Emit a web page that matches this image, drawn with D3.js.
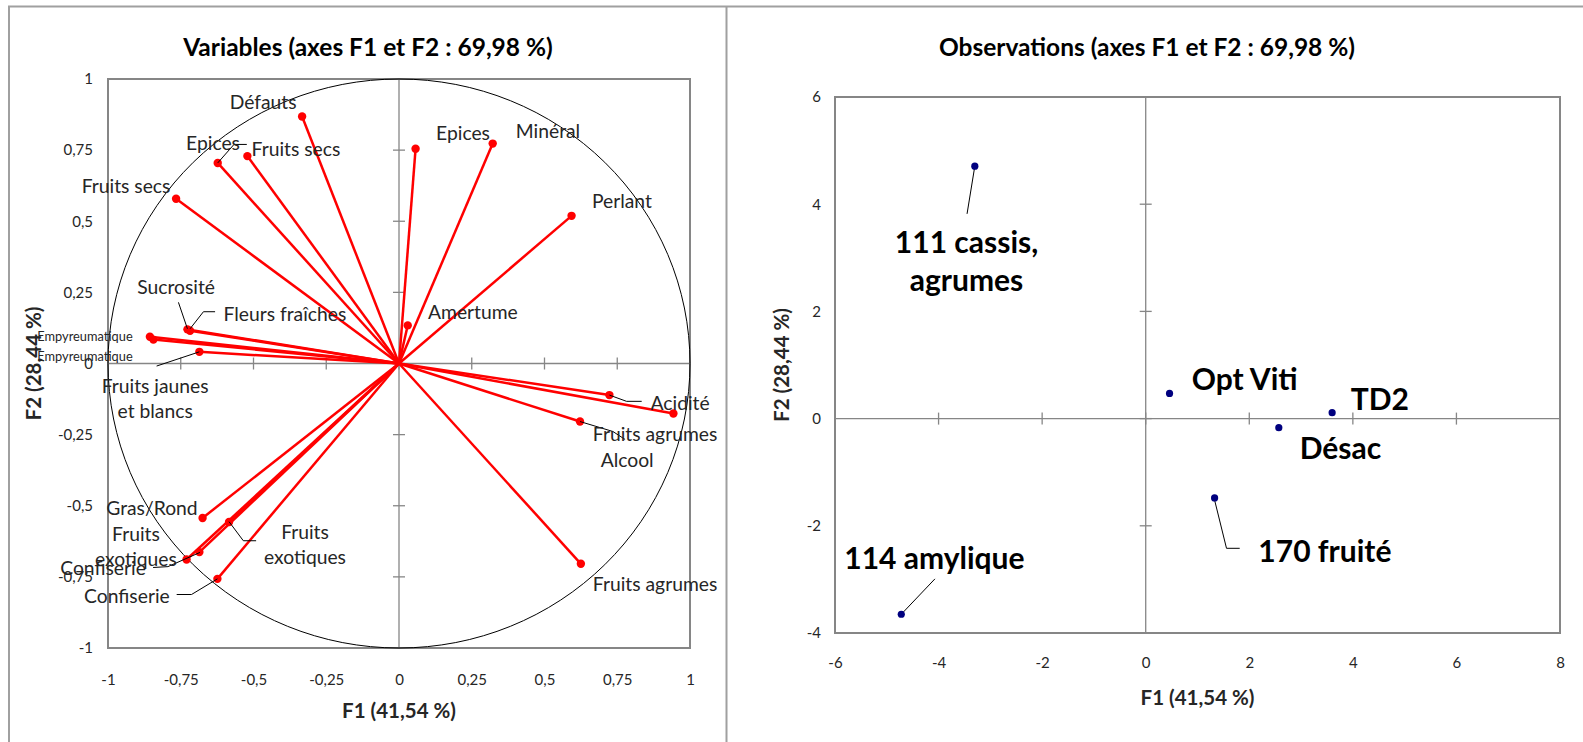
<!DOCTYPE html>
<html>
<head>
<meta charset="utf-8">
<script src="https://cdn.jsdelivr.net/npm/d3@7"></script>
<style>
  body { margin: 0; background: #fff; }
  text { font-family: Lato, "Open Sans", sans-serif; fill: #262626; }
</style>
</head>
<body>
<svg id="chart" width="1583" height="742"></svg>
<script>
// ---- Variables (correlation circle) ----
const varNames = ["Défauts", "Epices", "Fruits secs", "Fruits secs", "Epices", "Minéral", "Perlant",
  "Sucrosité", "Fleurs fraîches", "Empyreumatique", "Empyreumatique", "Fruits jaunes\net blancs",
  "Amertume", "Acidité", "Fruits agrumes", "Alcool", "Fruits agrumes", "Gras/Rond",
  "Fruits\nexotiques", "Fruits\nexotiques", "Confiserie", "Confiserie"];
const varF1 = [-0.333, -0.623, -0.521, -0.766, 0.057, 0.322, 0.593,
  -0.727, -0.718, -0.856, -0.844, -0.686,
  0.030, 0.723, 0.943, 0.622, 0.625, -0.675,
  -0.584, -0.686, -0.730, -0.624];
const varF2 = [0.868, 0.705, 0.729, 0.579, 0.755, 0.773, 0.519,
  0.120, 0.115, 0.094, 0.084, 0.041,
  0.134, -0.111, -0.176, -0.204, -0.704, -0.543,
  -0.557, -0.663, -0.689, -0.757];
// label anchors (data units)
const varLabF1 = [-0.467, -0.639, -0.354, -0.938, 0.220, 0.512, 0.766,
  -0.766, -0.392, -1.079, -1.079, -0.838,
  0.254, 0.966, 0.880, 0.784, 0.880, -0.849,
  -0.323, -0.904, -1.017, -0.935];
const varLabF2 = [0.924, 0.780, 0.759, 0.629, 0.812, 0.822, 0.576,
  0.271, 0.176, 0.095, 0.025, -0.121,
  0.186, -0.137, -0.243, -0.334, -0.770, -0.503,
  -0.631, -0.638, -0.717, -0.815];
// leader lines (data units)
const varLeaders = [
  [[-0.623, 0.705], [-0.567, 0.770], [-0.523, 0.770]],
  [[-0.758, 0.215], [-0.727, 0.122]],
  [[-0.718, 0.122], [-0.672, 0.182], [-0.632, 0.182]],
  [[-0.686, 0.041], [-0.833, -0.009]],
  [[0.723, -0.111], [0.782, -0.133], [0.834, -0.133]],
  [[0.622, -0.204], [0.735, -0.239], [0.777, -0.267]],
  [[-0.584, -0.556], [-0.535, -0.623], [-0.491, -0.623]],
  [[-0.845, -0.717], [-0.794, -0.714], [-0.684, -0.664]],
  [[-0.764, -0.812], [-0.713, -0.812], [-0.624, -0.757]]
];
const varTicks = [-1, -0.75, -0.5, -0.25, 0, 0.25, 0.5, 0.75, 1];

// ---- Observations ----
const obsNames = ["111 cassis,\nagrumes", "114 amylique", "Opt Viti", "TD2", "Désac", "170 fruité"];
const obsF1 = [-3.30, -4.72, 0.46, 3.60, 2.57, 1.33];
const obsF2 = [4.71, -3.65, 0.47, 0.11, -0.17, -1.48];
const obsLabF1 = [-3.46, -4.08, 1.91, 4.52, 3.76, 3.46];
const obsLabF2 = [2.96, -2.58, 0.76, 0.38, -0.53, -2.45];
const obsLeaders = [
  [[-3.30, 4.71], [-3.45, 3.82]],
  [[-4.69, -3.62], [-4.07, -2.99]],
  [[1.33, -1.52], [1.56, -2.42], [1.815, -2.42]]
];
const obsTicksX = [-6, -4, -2, 0, 2, 4, 6, 8];
const obsTicksY = [-4, -2, 0, 2, 4, 6];

const svg = d3.select('#chart');
const fmt = d => String(d).replace('.', ',');
const gray = '#868686';

// outer chart frames
svg.append('path')
  .attr('d', 'M9,742V6.5H1583M726.5,6.5V742')
  .attr('fill', 'none').attr('stroke', '#a0a0a0').attr('stroke-width', 2);

function drawPanel(cfg) {
  const { x, y, ticksX, ticksY } = cfg;
  const g = svg.append('g');
  const [x0, x1] = x.range(), [y0, y1] = y.range();

  // title + axis titles
  g.append('text').attr('x', cfg.titleX).attr('y', 46)
    .attr('text-anchor', 'middle').attr('dominant-baseline', 'central')
    .style('font-weight', 700).style('font-size', '24.5px').style('fill', '#000')
    .text(cfg.title);
  g.append('text').attr('x', (x0 + x1) / 2).attr('y', cfg.xTitleY)
    .attr('text-anchor', 'middle').attr('dominant-baseline', 'central')
    .style('font-weight', 700).style('font-size', '20.5px').style('fill', '#262626')
    .text('F1 (41,54 %)');
  g.append('text')
    .attr('transform', `translate(${cfg.yTitleX},${(y0 + y1) / 2}) rotate(-90)`)
    .attr('text-anchor', 'middle').attr('dominant-baseline', 'central')
    .style('font-weight', 700).style('font-size', '20.5px').style('fill', '#262626')
    .text('F2 (28,44 %)');

  // tick labels outside the plot area
  const ax = g.append('g').attr('transform', `translate(0,${y0})`)
    .call(d3.axisBottom(x).tickValues(ticksX).tickSize(0).tickPadding(cfg.padX).tickFormat(fmt));
  const ay = g.append('g').attr('transform', `translate(${x0},0)`)
    .call(d3.axisLeft(y).tickValues(ticksY).tickSize(0).tickPadding(cfg.padY).tickFormat(fmt));
  [ax, ay].forEach(a => {
    a.select('.domain').remove();
    a.selectAll('text').attr('font-family', null).attr('font-size', null)
      .style('font-size', '15px').style('fill', '#262626');
  });

  // zero lines with cross ticks
  g.append('line').attr('x1', x0).attr('x2', x1).attr('y1', y(0)).attr('y2', y(0))
    .attr('stroke', gray).attr('stroke-width', 1.3);
  g.append('line').attr('x1', x(0)).attr('x2', x(0)).attr('y1', y0).attr('y2', y1)
    .attr('stroke', gray).attr('stroke-width', 1.3);
  g.selectAll('.tx').data(ticksX).join('line')
    .attr('x1', d => x(d)).attr('x2', d => x(d))
    .attr('y1', y(0) - 6).attr('y2', y(0) + 6)
    .attr('stroke', gray).attr('stroke-width', 1.3);
  g.selectAll('.ty').data(ticksY).join('line')
    .attr('y1', d => y(d)).attr('y2', d => y(d))
    .attr('x1', x(0) - 6).attr('x2', x(0) + 6)
    .attr('stroke', gray).attr('stroke-width', 1.3);

  // plot area border
  g.append('rect').attr('x', x0).attr('y', y1)
    .attr('width', x1 - x0).attr('height', y0 - y1)
    .attr('fill', 'none').attr('stroke', gray).attr('stroke-width', 2);
  return g;
}

function addLabels(g, x, y, names, lx, ly, size, weight, lineH, color) {
  names.forEach((name, i) => {
    const lines = name.split('\n');
    const t = g.append('text')
      .attr('text-anchor', 'middle').attr('dominant-baseline', 'central')
      .style('font-size', (name === 'Empyreumatique' ? 12.8 : size) + 'px')
      .style('font-weight', weight).style('fill', color);
    lines.forEach((ln, k) => {
      t.append('tspan').attr('x', x(lx[i]))
        .attr('y', y(ly[i]) + (k - (lines.length - 1) / 2) * lineH)
        .text(ln);
    });
  });
}

function addLeaders(g, x, y, leaders) {
  const line = d3.line().x(d => x(d[0])).y(d => y(d[1]));
  g.selectAll('.leader').data(leaders).join('path')
    .attr('d', line).attr('fill', 'none')
    .attr('stroke', '#000').attr('stroke-width', 1);
}

// ---- left panel ----
const xL = d3.scaleLinear().domain([-1, 1]).range([108, 690]);
const yL = d3.scaleLinear().domain([-1, 1]).range([648, 79]);
const gL = drawPanel({ x: xL, y: yL, ticksX: varTicks, ticksY: varTicks,
  title: 'Variables (axes F1 et F2 : 69,98 %)', titleX: 368,
  xTitleY: 710, yTitleX: 33, padX: 26, padY: 15 });

gL.append('ellipse')
  .attr('cx', xL(0)).attr('cy', yL(0))
  .attr('rx', xL(1) - xL(0)).attr('ry', yL(0) - yL(1))
  .attr('fill', 'none').attr('stroke', '#000').attr('stroke-width', 1);

const vars = varNames.map((n, i) => ({ n, f1: varF1[i], f2: varF2[i] }));
gL.selectAll('.vec').data(vars).join('line')
  .attr('x1', xL(0)).attr('y1', yL(0))
  .attr('x2', d => xL(d.f1)).attr('y2', d => yL(d.f2))
  .attr('stroke', '#ff0000').attr('stroke-width', 2.5);
gL.selectAll('.pt').data(vars).join('circle')
  .attr('cx', d => xL(d.f1)).attr('cy', d => yL(d.f2)).attr('r', 4.2)
  .attr('fill', '#ff0000');
addLeaders(gL, xL, yL, varLeaders);
addLabels(gL, xL, yL, varNames, varLabF1, varLabF2, 19.3, 400, 25, '#262626');

// ---- right panel ----
const xR = d3.scaleLinear().domain([-6, 8]).range([835, 1560]);
const yR = d3.scaleLinear().domain([-4, 6]).range([633, 97]);
const gR = drawPanel({ x: xR, y: yR, ticksX: obsTicksX, ticksY: obsTicksY,
  title: 'Observations (axes F1 et F2 : 69,98 %)', titleX: 1147,
  xTitleY: 697, yTitleX: 781, padX: 24, padY: 14 });

addLeaders(gR, xR, yR, obsLeaders);
gR.selectAll('.obs').data(obsNames.map((n, i) => ({ f1: obsF1[i], f2: obsF2[i] }))).join('circle')
  .attr('cx', d => xR(d.f1)).attr('cy', d => yR(d.f2)).attr('r', 3.6)
  .attr('fill', '#00007f');
addLabels(gR, xR, yR, obsNames, obsLabF1, obsLabF2, 30, 700, 37.5, '#000');
</script>
</body>
</html>
